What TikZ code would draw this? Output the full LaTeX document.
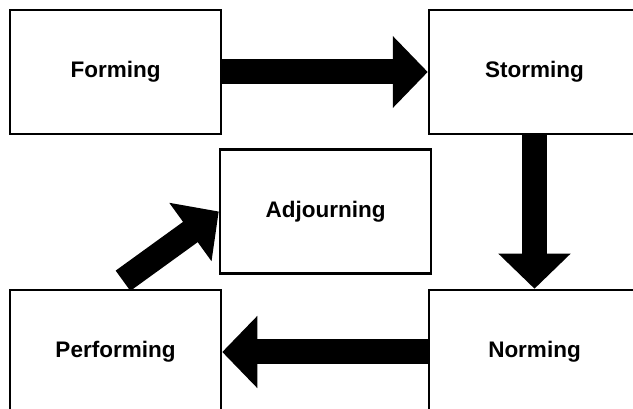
\documentclass[tikz,border=0pt]{standalone}
\usepackage{fontspec}
\setmainfont{Liberation Sans}
\usetikzlibrary{arrows.meta}

\begin{document}
\begin{tikzpicture}[
    x=1pt, y=-1pt,
    stage node/.style={rectangle, draw=black, line width=2.5pt, fill=white, minimum width=211pt, minimum height=124pt, font=\fontsize{22.5}{27}\selectfont\bfseries},
    fat arrow/.style={draw=black, line width=25pt, -{Triangle[length=35pt, width=70pt]}}
]
    \useasboundingbox (0, 0) rectangle (633, 409);
    \clip (0, 0) rectangle (633, 409);

    % Nodes
    \node[stage node] (F) at (115.5, 72) {Forming};
    \node[stage node] (S) at (534.5, 72) {Storming};
    \node[stage node] (A) at (325.5, 211.5) {Adjourning};
    \node[stage node] (P) at (115.5, 352) {Performing};
    \node[stage node] (N) at (534.5, 352) {Norming};

    % Arrows
    \draw[fat arrow] (F) -- (S);
    \draw[fat arrow] (S) -- (N);
    \draw[fat arrow] (N) -- (P);
    \draw[fat arrow] ([shift={(7.5, -8)}]P.north) -- (A.west); % up into Adjourning
\end{tikzpicture}
\end{document}
